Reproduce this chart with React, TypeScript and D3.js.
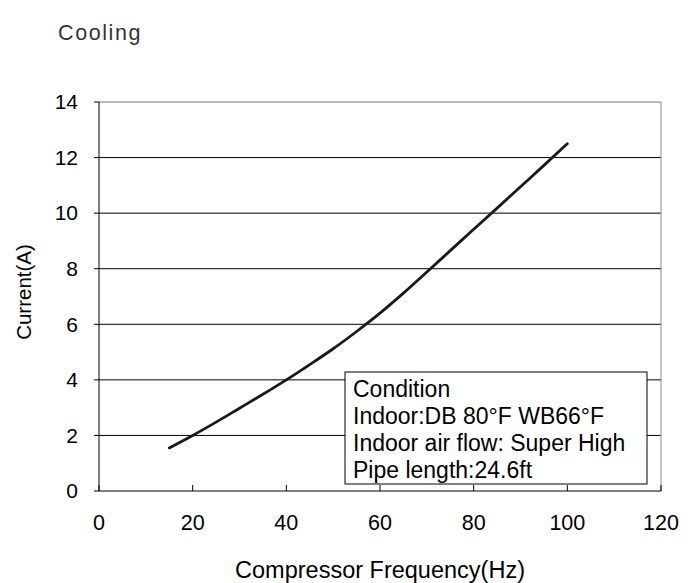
import * as d3 from "d3";

const freq = [15, 20, 25, 30, 35, 40, 45, 50, 55, 60, 65, 70, 75, 80, 85, 90, 95, 100];
const current = [1.55, 2.0, 2.48, 2.98, 3.48, 4.0, 4.55, 5.12, 5.74, 6.4, 7.12, 7.88, 8.65, 9.42, 10.18, 10.95, 11.72, 12.5];
const xTicks = [0, 20, 40, 60, 80, 100, 120];
const yTicks = [0, 2, 4, 6, 8, 10, 12, 14];
const conditionLines = [
  "Condition",
  "Indoor:DB 80°F WB66°F",
  "Indoor air flow: Super High",
  "Pipe length:24.6ft",
];

const width = 688;
const height = 583;
const marginLeft = 99;
const marginRight = 27;
const marginTop = 102;
const marginBottom = 92;
const font = "'Liberation Sans', Arial, sans-serif";

export default function App() {
  const x = d3.scaleLinear([0, 120], [marginLeft, width - marginRight]);
  const y = d3.scaleLinear([0, 14], [height - marginBottom, marginTop]);
  const pts = freq.map((f, i) => [f, current[i]]);
  const line = d3
    .line()
    .x((d) => x(d[0]))
    .y((d) => y(d[1]))
    .curve(d3.curveMonotoneX);

  return (
    <svg
      width={width}
      height={height}
      style={{ position: "absolute", left: 0, top: 0, background: "#fff" }}
    >
      <text x={58} y={40} fontFamily={font} fontSize={21.5} letterSpacing={1.6} fill="#333">
        Cooling
      </text>

      {/* grid lines */}
      {yTicks.slice(1).map((t) => (
        <line
          key={"g" + t}
          x1={x(0)}
          x2={x(120)}
          y1={y(t)}
          y2={y(t)}
          stroke={t === 14 ? "#777" : "#000"}
          strokeWidth={1}
        />
      ))}
      <line x1={x(120)} x2={x(120)} y1={y(14)} y2={y(0)} stroke="#888" />

      {/* y axis */}
      <line x1={x(0)} x2={x(0)} y1={y(14)} y2={y(0)} stroke="#000" />
      {yTicks.map((t) => (
        <g key={"y" + t}>
          <line x1={x(0) - 5} x2={x(0)} y1={y(t)} y2={y(t)} stroke="#000" />
          <text
            x={x(0) - 21}
            y={y(t)}
            dy="0.35em"
            textAnchor="end"
            fontFamily={font}
            fontSize={21}
            fill="#000"
          >
            {t}
          </text>
        </g>
      ))}

      {/* x axis */}
      <line x1={x(0)} x2={x(120)} y1={y(0)} y2={y(0)} stroke="#000" />
      {xTicks.map((t) => (
        <g key={"x" + t}>
          <line x1={x(t)} x2={x(t)} y1={y(0) - 6} y2={y(0)} stroke="#000" />
          <text
            x={x(t)}
            y={y(0) + 39}
            textAnchor="middle"
            fontFamily={font}
            fontSize={21.5}
            fill="#000"
          >
            {t}
          </text>
        </g>
      ))}

      <text
        x={(x(0) + x(120)) / 2}
        y={578}
        textAnchor="middle"
        fontFamily={font}
        fontSize={23.5}
        fill="#000"
      >
        Compressor Frequency(Hz)
      </text>
      <text
        transform={`translate(31,292) rotate(-90)`}
        textAnchor="middle"
        fontFamily={font}
        fontSize={20.5}
        fill="#000"
      >
        Current(A)
      </text>

      <path d={line(pts)} fill="none" stroke="#1a1a1a" strokeWidth={2.8} strokeLinecap="round" />

      {/* condition box */}
      <rect x={345} y={372} width={302} height={112} fill="#fff" stroke="#000" />
      {conditionLines.map((s, i) => (
        <text
          key={s}
          x={353}
          y={397 + i * 27}
          fontFamily={font}
          fontSize={23}
          fill="#000"
        >
          {s}
        </text>
      ))}
    </svg>
  );
}
